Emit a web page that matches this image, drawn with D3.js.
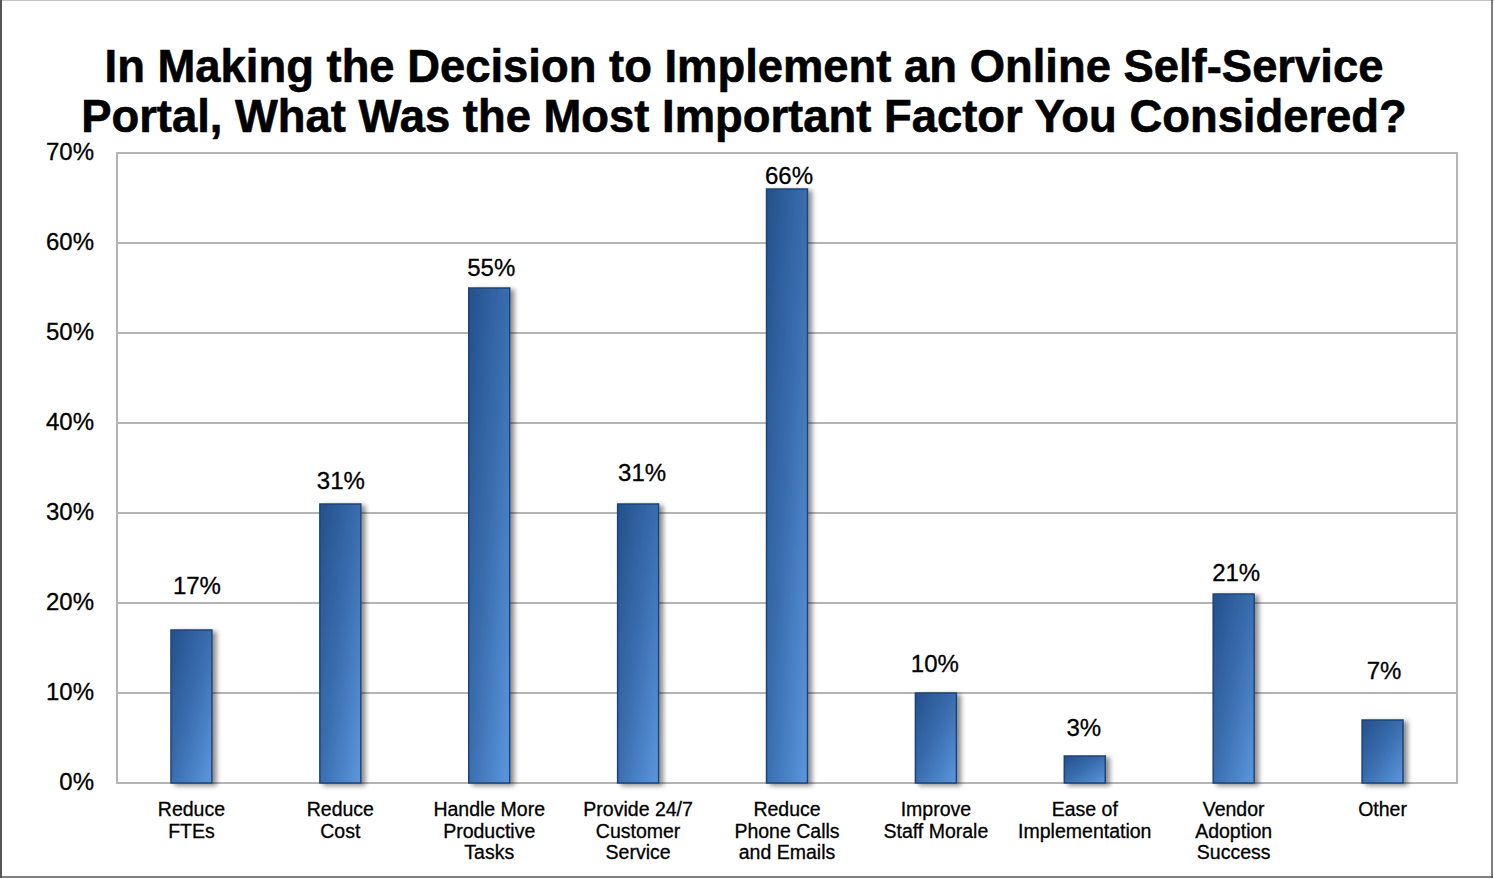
<!DOCTYPE html>
<html>
<head>
<meta charset="utf-8">
<script src="https://cdn.jsdelivr.net/npm/d3@7/dist/d3.min.js"></script>
<style>
  html, body { margin: 0; padding: 0; background: #fff; }
  svg { display: block; }
  text { font-family: "Liberation Sans", Arial, Helvetica, sans-serif; fill: #000; stroke: #000; stroke-width: 0.3px; }
</style>
</head>
<body>
<svg id="chart" width="1494" height="879"></svg>
<script>
// Survey responses: share of respondents citing each factor
const categories = [
  ["Reduce", "FTEs"],
  ["Reduce", "Cost"],
  ["Handle More", "Productive", "Tasks"],
  ["Provide 24/7", "Customer", "Service"],
  ["Reduce", "Phone Calls", "and Emails"],
  ["Improve", "Staff Morale"],
  ["Ease of", "Implementation"],
  ["Vendor", "Adoption", "Success"],
  ["Other"]
];
const values = [17, 31, 55, 31, 66, 10, 3, 21, 7];
const yTicks = [0, 10, 20, 30, 40, 50, 60, 70];
const titleLines = [
  "In Making the Decision to Implement an Online Self-Service",
  "Portal, What Was the Most Important Factor You Considered?"
];
// hand-placed value labels: [dx, baseline lift above bar top] in px
const labelNudge = [[5.5, 36], [0.5, 15], [2, 12], [4, 23], [2, 5], [-1, 21], [-1, 20], [2.5, 13], [1.5, 41]];

const W = 1494, H = 879;
const plot = { left: 117, right: 1457, top: 153, bottom: 783 };

const svg = d3.select("#chart");
const defs = svg.append("defs");

const grad = defs.append("linearGradient")
  .attr("id", "barFill")
  .attr("x1", "0").attr("y1", "0").attr("x2", "1").attr("y2", "1")
  .attr("gradientUnits", "objectBoundingBox");
grad.append("stop").attr("offset", "0").attr("stop-color", "#24508b");
grad.append("stop").attr("offset", "0.5").attr("stop-color", "#3a6eb0");
grad.append("stop").attr("offset", "1").attr("stop-color", "#5c97de");

const shadow = defs.append("filter").attr("id", "barShadow")
  .attr("x", "-20%").attr("y", "-10%").attr("width", "160%").attr("height", "130%");
shadow.append("feGaussianBlur").attr("in", "SourceAlpha").attr("stdDeviation", 2.5).attr("result", "b");
shadow.append("feOffset").attr("in", "b").attr("dx", 4).attr("dy", 2).attr("result", "o");
shadow.append("feComponentTransfer").attr("in", "o").attr("result", "s")
  .append("feFuncA").attr("type", "linear").attr("slope", 0.45);
const merge = shadow.append("feMerge");
merge.append("feMergeNode").attr("in", "s");
merge.append("feMergeNode").attr("in", "SourceGraphic");

// outer frame
const frame = svg.append("g");
frame.append("line").attr("x1", 0).attr("x2", W).attr("y1", 0.5).attr("y2", 0.5)
  .attr("stroke", "#c4c4c4").attr("stroke-width", 1);
frame.append("line").attr("x1", 1).attr("x2", 1).attr("y1", 0).attr("y2", H - 1)
  .attr("stroke", "#555").attr("stroke-width", 2);
frame.append("line").attr("x1", W - 2).attr("x2", W - 2).attr("y1", 0).attr("y2", H - 1)
  .attr("stroke", "#555").attr("stroke-width", 1.5);
frame.append("line").attr("x1", 0).attr("x2", W - 1).attr("y1", H - 2).attr("y2", H - 2)
  .attr("stroke", "#555").attr("stroke-width", 1.5);

const x = d3.scaleBand()
  .domain(d3.range(categories.length))
  .range([plot.left, plot.right])
  .paddingInner(0.725).paddingOuter(0.3625);

const y = d3.scaleLinear().domain([0, 70]).range([plot.bottom, plot.top]);

// gridlines
svg.append("g").selectAll("line").data(yTicks).join("line")
  .attr("x1", plot.left).attr("x2", plot.right)
  .attr("y1", d => y(d)).attr("y2", d => y(d))
  .attr("stroke", "#b4b4b4").attr("stroke-width", 2);

// plot frame
svg.append("rect")
  .attr("x", plot.left).attr("y", plot.top)
  .attr("width", plot.right - plot.left).attr("height", plot.bottom - plot.top)
  .attr("fill", "none").attr("stroke", "#b4b4b4").attr("stroke-width", 2);

// y axis labels
const yAxis = d3.axisLeft(y).tickValues(yTicks).tickFormat(d => d + "%").tickSize(0).tickPadding(23);
const ya = svg.append("g").attr("transform", `translate(${plot.left},0)`).call(yAxis);
ya.select(".domain").remove();
ya.selectAll("text")
  .style("font-family", '"Liberation Sans", Arial, sans-serif')
  .style("font-size", "24px").attr("fill", "#000").attr("dy", "0.29em");

// bars
svg.append("g").selectAll("rect").data(values).join("rect")
  .attr("x", (d, i) => x(i))
  .attr("y", d => y(d))
  .attr("width", x.bandwidth())
  .attr("height", d => y(0) - y(d))
  .attr("fill", "url(#barFill)")
  .attr("stroke", "#1f4577").attr("stroke-width", 1.5)
  .attr("filter", "url(#barShadow)");

// value labels
svg.append("g").selectAll("text").data(values).join("text")
  .attr("x", (d, i) => x(i) + x.bandwidth() / 2 + labelNudge[i][0])
  .attr("y", (d, i) => y(d) - labelNudge[i][1])
  .attr("text-anchor", "middle")
  .style("font-size", "24px")
  .text(d => d + "%");

// category labels
const cat = svg.append("g").selectAll("text").data(categories).join("text")
  .attr("x", (d, i) => x(i) + x.bandwidth() / 2)
  .attr("y", 816)
  .attr("text-anchor", "middle")
  .style("font-size", "19.5px");
cat.selectAll("tspan").data(d => d).join("tspan")
  .attr("x", function () { return this.parentNode.getAttribute("x"); })
  .attr("dy", (d, j) => j === 0 ? 0 : 21.7)
  .text(d => d);

// title
svg.append("g").selectAll("text").data(titleLines).join("text")
  .attr("x", 744)
  .attr("y", (d, i) => 82 + i * 50)
  .attr("text-anchor", "middle")
  .style("font-size", "45.4px").style("font-weight", "bold")
  .style("stroke-width", "0.6px")
  .text(d => d);
</script>
</body>
</html>
